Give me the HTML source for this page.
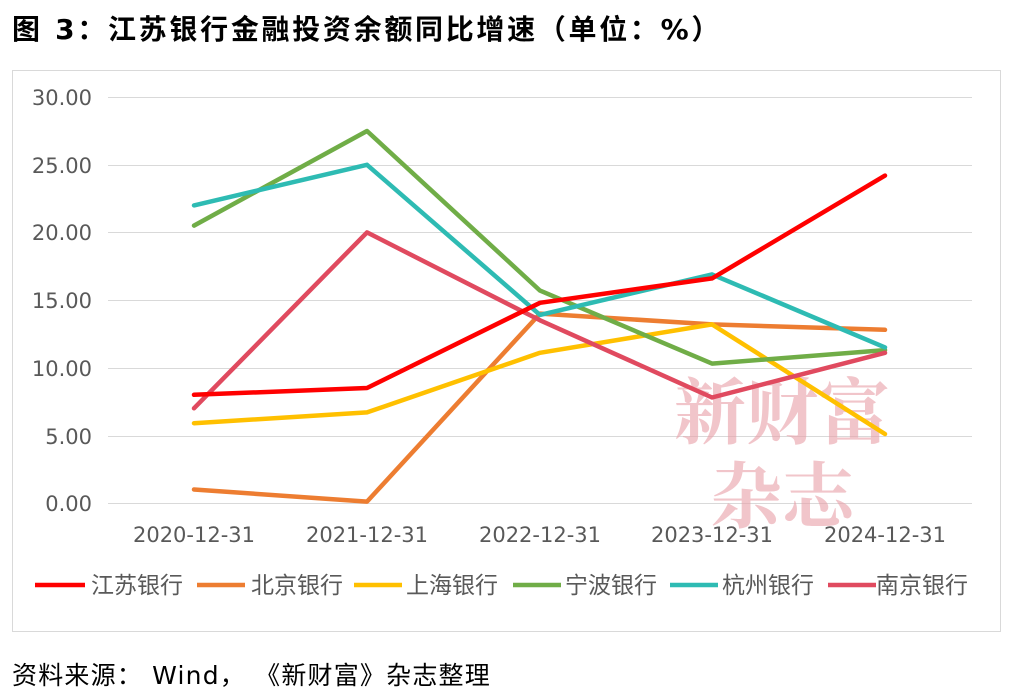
<!DOCTYPE html>
<html><head><meta charset="utf-8"><style>
body{margin:0;background:#fff;width:1014px;height:692px;overflow:hidden;}
</style></head><body>
<svg width="1014" height="692" xmlns="http://www.w3.org/2000/svg" font-family="DejaVu Sans, Noto Sans CJK SC, sans-serif">
<text x="12" y="39" font-size="28" font-weight="bold" fill="#000" letter-spacing="2.7">图 3：江苏银行金融投资余额同比增速（单位：%）</text>
<rect x="12.5" y="70.5" width="988" height="561" fill="#fff" stroke="#d9d9d9"/>
<g stroke="#d9d9d9" stroke-width="1">
<line x1="108" x2="972" y1="97.5" y2="97.5"/><line x1="108" x2="972" y1="165.5" y2="165.5"/>
<line x1="108" x2="972" y1="232.5" y2="232.5"/><line x1="108" x2="972" y1="300.5" y2="300.5"/>
<line x1="108" x2="972" y1="368.5" y2="368.5"/><line x1="108" x2="972" y1="436.5" y2="436.5"/>
<line x1="108" x2="972" y1="503.5" y2="503.5"/>
</g>
<g font-size="21" fill="#595959" text-anchor="end">
<text x="92" y="105">30.00</text><text x="92" y="173">25.00</text><text x="92" y="240">20.00</text>
<text x="92" y="308">15.00</text><text x="92" y="376">10.00</text><text x="92" y="444">5.00</text><text x="92" y="511">0.00</text>
</g>
<g font-size="21" fill="#595959" text-anchor="middle">
<text x="194" y="542">2020-12-31</text><text x="367" y="542">2021-12-31</text><text x="540" y="542">2022-12-31</text>
<text x="712" y="542">2023-12-31</text><text x="885" y="542">2024-12-31</text>
</g>
<text x="782" y="438" font-size="72" fill="#e8a0a8" opacity="0.6" text-anchor="middle" font-family="Noto Serif CJK SC, serif" font-weight="bold">新财富</text>
<text x="782" y="522" font-size="72" fill="#e8a0a8" opacity="0.6" text-anchor="middle" font-family="Noto Serif CJK SC, serif" font-weight="bold">杂志</text>
<g fill="none" stroke-width="4.5" stroke-linejoin="round" stroke-linecap="round">
<polyline stroke="#ed7d31" points="194,489.5 367,501.6 540,313.6 712,324.4 885,329.8"/>
<polyline stroke="#ffc000" points="194,423.2 367,412.4 540,352.8 712,324.4 885,434"/>
<polyline stroke="#70ad47" points="194,225.6 367,131 540,290.6 712,363.6 885,350.1"/>
<polyline stroke="#e04a5f" points="194,408.3 367,232.4 540,320.3 712,397.5 885,352.8"/>
<polyline stroke="#2ebbb3" points="194,205.4 367,164.8 540,314.9 712,274.4 885,347.4"/>
<polyline stroke="#ff0000" points="194,394.8 367,388 540,302.8 712,278.4 885,175.6"/>
</g>
<g stroke-width="4.5">
<line x1="35" x2="85" y1="585" y2="585" stroke="#ff0000"/>
<line x1="197" x2="245" y1="585" y2="585" stroke="#ed7d31"/>
<line x1="354" x2="402" y1="585" y2="585" stroke="#ffc000"/>
<line x1="513" x2="561" y1="585" y2="585" stroke="#70ad47"/>
<line x1="670" x2="718" y1="585" y2="585" stroke="#2ebbb3"/>
<line x1="828" x2="876" y1="585" y2="585" stroke="#e04a5f"/>
</g>
<g font-size="23" fill="#595959">
<text x="91" y="593">江苏银行</text><text x="251" y="593">北京银行</text><text x="406" y="593">上海银行</text>
<text x="565" y="593">宁波银行</text><text x="722" y="593">杭州银行</text><text x="876" y="593">南京银行</text>
</g>
<text x="12" y="684" font-size="25" fill="#000" letter-spacing="1.2">资料来源： Wind， 《新财富》杂志整理</text>
</svg>
</body></html>
